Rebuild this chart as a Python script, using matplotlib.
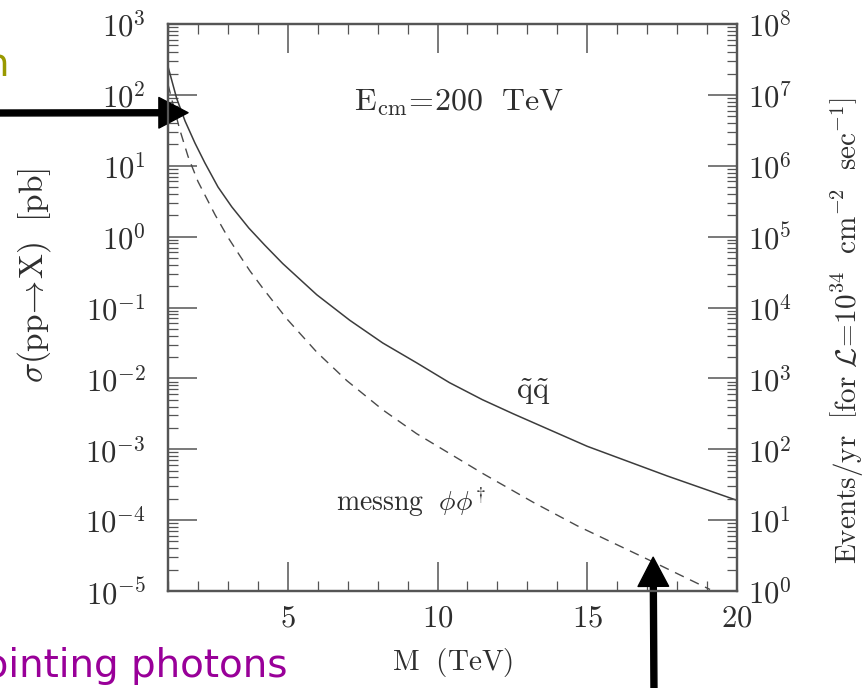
import numpy as np
import matplotlib
matplotlib.use("Agg")
import matplotlib.pyplot as plt
from matplotlib.ticker import MultipleLocator, LogLocator, NullFormatter, FuncFormatter

plt.rcParams['mathtext.fontset'] = 'cm'

# --- values ---
# squark pair (solid), M in TeV, sigma in pb
m_sq = [1.0, 1.29, 1.57, 1.9, 2.23, 2.67, 3.13, 3.7, 4.23, 4.83, 5.97, 7.07,
        8.17, 9.3, 10.4, 11.5, 12.53, 15.0, 17.67, 20.0]
sig_sq = [251, 89, 42.7, 20.9, 11.0, 5.01, 2.63, 1.32, 0.759, 0.417, 0.151, 0.066,
          0.0316, 0.0166, 0.0087, 0.0050, 0.00316, 0.0011, 4.2e-4, 1.9e-4]

# messenger scalar pair (dashed)
m_mess = [1.0, 1.13, 1.4, 1.67, 2.0, 2.57, 3.0, 3.4, 3.73, 4.17, 4.97, 5.97,
          6.97, 8.17, 9.3, 11.53, 13.2, 14.67, 17.2, 19.1]
sig_mess = [141, 85, 31.6, 13.5, 6.0, 2.04, 0.98, 0.537, 0.331, 0.186, 0.069, 0.0234,
            0.0093, 0.0036, 0.00166, 4.5e-4, 1.78e-4, 8.3e-5, 2.57e-5, 1.05e-5]

# events/yr per pb for L = 1e34 cm^-2 s^-1
events_per_pb = 1e5

# arrow tips (data coords) of the slide overlay
arrow_h_tip = (1.67, 56.0)
arrow_v_tip = (17.2, 3.0e-5)

ink = '#2e2e2e'
W, H = 865, 688

fig = plt.figure(figsize=(W / 100, H / 100), dpi=100)
ax = fig.add_axes([168 / W, 1 - 591 / H, (737 - 168) / W, (591 - 24) / H])

ax.plot(m_sq, sig_sq, color='#3c3c3c', lw=1.1)
ax.plot(m_mess, sig_mess, color='#4a4a4a', lw=1.0, ls=(0, (7, 5)))

ax.set_xlim(1, 20)
ax.set_yscale('log')
ax.set_ylim(1e-5, 1e3)

pow_fmt = FuncFormatter(lambda v, p: r'$10^{%d}$' % round(np.log10(v)))
ax.xaxis.set_major_locator(MultipleLocator(5))
ax.xaxis.set_minor_locator(MultipleLocator(1))
ax.xaxis.set_major_formatter(FuncFormatter(lambda v, p: r'$%d$' % v))
ax.yaxis.set_major_locator(LogLocator(base=10, numticks=20))
ax.yaxis.set_minor_locator(LogLocator(base=10, subs=np.arange(2, 10), numticks=20))
ax.yaxis.set_major_formatter(pow_fmt)
ax.yaxis.set_minor_formatter(NullFormatter())

for sp in ax.spines.values():
    sp.set_color('#555555')
    sp.set_linewidth(1.6)

ax.tick_params(which='both', direction='in', top=True, colors='#555555', labelcolor=ink)
ax.tick_params(which='major', length=21, width=1.1, labelsize=22)
ax.tick_params(axis='y', which='major', pad=16)
ax.tick_params(axis='x', which='major', pad=9)
ax.tick_params(which='minor', length=7, width=0.9)

ax.set_xlabel(r'$\mathrm{M\ \ (TeV)}$', fontsize=21, color=ink, labelpad=10)
ax.set_ylabel(r'$\sigma(\mathrm{pp}\!\rightarrow\!\mathrm{X})\ \ [\mathrm{pb}]$', fontsize=24, color=ink)
ax.yaxis.set_label_coords(-0.202, 0.556)

# right axis: events per year
ax2 = ax.twinx()
ax2.set_yscale('log')
lo, hi = ax.get_ylim()
ax2.set_ylim(lo * events_per_pb, hi * events_per_pb)
ax2.yaxis.set_major_locator(LogLocator(base=10, numticks=20))
ax2.yaxis.set_minor_locator(LogLocator(base=10, subs=np.arange(2, 10), numticks=20))
ax2.yaxis.set_major_formatter(pow_fmt)
ax2.yaxis.set_minor_formatter(NullFormatter())
ax2.tick_params(which='both', direction='in', colors='#555555', labelcolor=ink)
ax2.tick_params(which='major', length=21, width=1.1, labelsize=22, pad=8)
ax2.tick_params(which='minor', length=7, width=0.9)
for sp in ax2.spines.values():
    sp.set_color('#555555')
    sp.set_linewidth(1.6)
ax2.set_ylabel(r'$\mathrm{Events/yr}\ \ \left[\mathrm{for}\ \mathcal{L}\!=\!10^{34}\ \ \mathrm{cm}^{-2}\ \ \mathrm{sec}^{-1}\right]$',
               fontsize=21, color=ink, rotation=90, va='center', ha='center')
ax2.yaxis.set_label_coords(1.193, 0.46)

# in-plot labels
ax.text(0.511, 0.861, r'$\mathrm{E_{cm}\!=\!200\ \ TeV}$', transform=ax.transAxes,
        ha='center', va='center', fontsize=23, color=ink)
ax.text(0.641, 0.351, r'$\tilde{\mathrm{q}}\tilde{\mathrm{q}}$', transform=ax.transAxes,
        ha='center', va='center', fontsize=22, color=ink)
ax.text(0.427, 0.157, r'$\mathrm{messng}\ \ \phi\phi^{\dagger}$', transform=ax.transAxes,
        ha='center', va='center', fontsize=20, color=ink)

# slide overlay: arrows and captions
arrow_kw = dict(facecolor='black', edgecolor='black', width=4.3, headwidth=22, headlength=21, shrink=0)
ax.annotate('', xy=arrow_h_tip, xycoords='data', xytext=(-5, H - 113), textcoords='figure pixels',
            arrowprops=arrow_kw, annotation_clip=False)
ax.annotate('', xy=arrow_v_tip, xycoords='data', xytext=(654, -5), textcoords='figure pixels',
            arrowprops=arrow_kw, annotation_clip=False)

fig.text(288 / W, 11 / H, 'pointing photons', ha='right', va='baseline',
         fontsize=28, color='#990099', family='DejaVu Sans')
fig.text(9 / W, 1 - 76 / H, 'n', ha='right', va='baseline',
         fontsize=28, color='#999900', family='DejaVu Sans')

fig.savefig('out.png', dpi=100)
